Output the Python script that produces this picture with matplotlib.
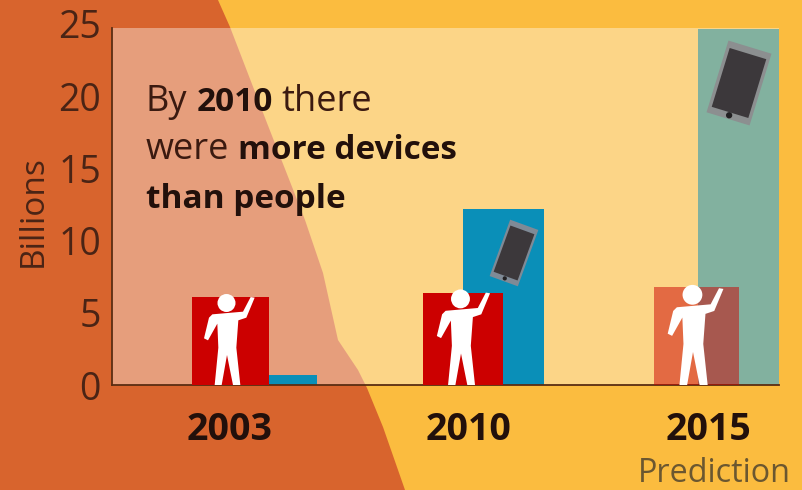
import matplotlib
import matplotlib.pyplot as plt
from matplotlib.patches import Circle, Polygon, Rectangle
from matplotlib.transforms import Affine2D

matplotlib.use('Agg')

years = ['2003', '2010', '2015']
people = [6.2, 6.5, 6.9]
devices = [0.7, 12.4, 25]
y_ticks = [0, 5, 10, 15, 20, 25]

W, H = 803, 490
FONT = 'Open Sans'
ORANGE = '#D8642D'
YELLOW = '#FBBC3F'
RED = '#CC0000'
BLUE = '#0A8FB8'
DARK = '#3B1A10'
BLACKISH = '#22100B'

# bar geometry along the x axis, which runs in pixels
people_left = [192, 423, 654]
people_width = [77, 80, 85]
devices_left = [269, 463, 698]
devices_width = [48, 81, 81]
bar_alpha = [1, 1, 0.5]
label_x = [230, 469, 708]

person_x = [227, 461, 693]
person_scale = [1.0, 1.05, 1.1]
person_outline = [(315, 290), (303, 288), (280, 332), (188, 340), (178, 350), (163, 412),
                  (175, 418), (203, 368), (206, 440), (195, 552), (216, 552), (232, 462),
                  (250, 552), (272, 552), (260, 440), (266, 358), (290, 350)]


def draw_person(axis, cx, base, scale=1.0):
    pts = [(cx + (px - 232) / 3 * scale, base + (py - 552) / 3 * scale) for px, py in person_outline]
    axis.add_patch(Polygon(pts, closed=True, color='white', lw=0))
    axis.add_patch(Circle((cx - 0.5 * scale, base - 82 * scale), 9 * scale, color='white', lw=0))


def draw_phone(axis, cx, cy, width, height, angle, rim):
    rot = Affine2D().rotate_deg_around(cx, cy, angle) + axis.transData
    axis.add_patch(Rectangle((cx - width / 2, cy - height / 2), width, height, color=rim, lw=0, transform=rot))
    sw, sh = width * 0.85, height * 0.82
    axis.add_patch(Rectangle((cx - sw / 2, cy - sh / 2), sw, sh, color='#3C383B', lw=0, transform=rot))
    axis.add_patch(Circle((cx, cy + height * 0.45), width * 0.07, color='#222022', lw=0, transform=rot))


def draw_runs(fig, x, y, runs):
    # writes regular and bold pieces one after the other on the same baseline
    renderer = fig.canvas.get_renderer()
    for text, bold in runs:
        t = fig.text(x / W, 1 - y / H, text, fontsize=24 if bold else 26,
                     fontweight='bold' if bold else 'normal', family=FONT,
                     color=BLACKISH if bold else DARK, va='baseline', ha='left')
        x += t.get_window_extent(renderer).width + 9


fig = plt.figure(figsize=(W / 100, H / 100), dpi=100)

# two-tone backdrop
back = fig.add_axes([0, 0, 1, 1], zorder=0)
back.set_xlim(0, W)
back.set_ylim(H, 0)
back.axis('off')
back.add_patch(Rectangle((0, 0), W, H, color=YELLOW, lw=0))
back.add_patch(Polygon([(0, 0), (218, 0), (230, 27), (267, 123), (305, 220), (323, 273), (338, 340),
                        (358, 370), (367, 388), (383, 427), (405, 490), (0, 490)],
                       closed=True, color=ORANGE, lw=0))

ax = fig.add_axes([112 / W, 1 - 385 / H, 667 / W, 357 / H], zorder=1)
ax.set_facecolor((1, 1, 1, 0.38))
ax.set_xlim(112, 779)
ax.set_ylim(0, 25.1)

for i in range(len(years)):
    ax.bar(devices_left[i], devices[i], width=devices_width[i], align='edge', color=BLUE,
           alpha=bar_alpha[i], lw=0, zorder=2)
    ax.bar(people_left[i], people[i], width=people_width[i], align='edge', color=RED,
           alpha=bar_alpha[i], lw=0, zorder=3)

for side in ['top', 'right']:
    ax.spines[side].set_visible(False)
for side in ['left', 'bottom']:
    ax.spines[side].set_color('#5A2D12')
    ax.spines[side].set_linewidth(1.3)

ax.set_yticks(y_ticks)
ax.set_yticklabels(y_ticks, fontsize=27, family=FONT, color='#4A2415')
ax.tick_params(axis='y', length=0, pad=8)
# the numerals are spaced a little wider than the scale
for value, label in zip(y_ticks, ax.get_yticklabels()):
    label.set_transform(label.get_transform() + Affine2D().translate(0, value * 0.22))
ax.set_xticks(label_x)
ax.set_xticklabels(years, fontsize=27, fontweight='bold', family=FONT, color=BLACKISH)
ax.tick_params(axis='x', length=0, pad=19)

fig.text(33 / W, 1 - 211 / H, 'Billions', rotation=90, fontsize=24, family=FONT, color='#4A2415',
         ha='center', va='center')
fig.text(714 / W, 1 - 473 / H, 'Prediction', fontsize=23.3, family=FONT, color='#6B5730',
         ha='center', va='center')

# icons sit on top of the bars, placed in pixels
top = fig.add_axes([0, 0, 1, 1], zorder=2)
top.set_xlim(0, W)
top.set_ylim(H, 0)
top.axis('off')
for x, scale in zip(person_x, person_scale):
    draw_person(top, x, 385, scale)
draw_phone(top, 514, 253, 30, 60, 20, '#7F8A96')
draw_phone(top, 739, 83, 45, 75, 17, '#8C8F90')

fig.canvas.draw()
draw_runs(fig, 146, 111, [('By', False), ('2010', True), ('there', False)])
draw_runs(fig, 146, 159, [('were', False), ('more devices', True)])
draw_runs(fig, 146, 208, [('than people', True)])

fig.savefig('out.png', dpi=100)
